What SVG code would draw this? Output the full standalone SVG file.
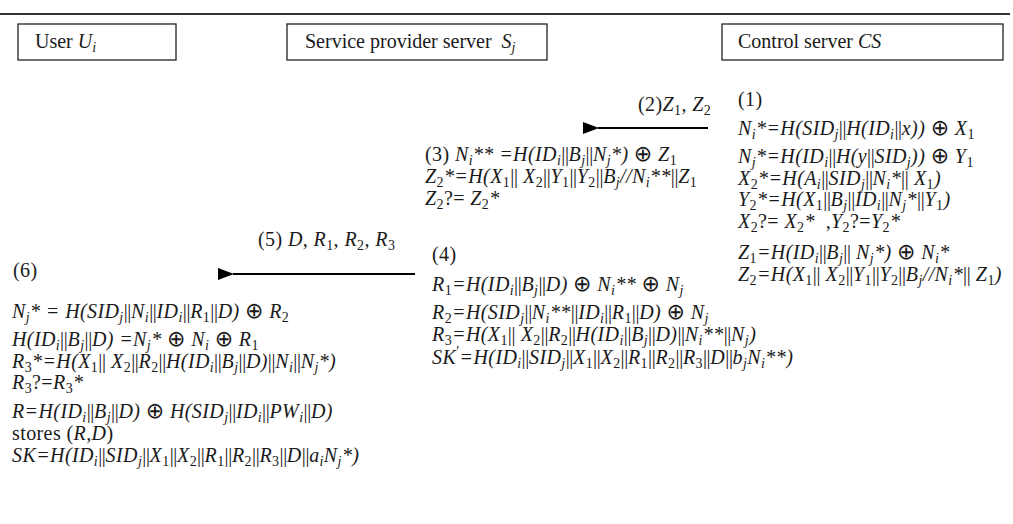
<svg xmlns="http://www.w3.org/2000/svg" width="1013" height="524" viewBox="0 0 1013 524">
<style>
.t{font-family:"Liberation Serif",serif;font-size:20px;fill:#1a1a1a;font-style:italic;letter-spacing:0.4px}
.h{font-size:20px;letter-spacing:0}
.u{font-style:normal}
.s{font-size:14px;baseline-shift:-3.5px}
.p{font-style:normal;font-size:14px;baseline-shift:8px}
.b{font-style:normal;letter-spacing:-0.3px}
.o{font-family:"DejaVu Sans",sans-serif;font-size:22px;font-style:normal}
.box{fill:#fff;stroke:#222;stroke-width:1.3}
.conn{stroke:#000;stroke-width:2;fill:none}
</style>
<defs>
<marker id="ah" markerWidth="16" markerHeight="12" refX="1" refY="6" orient="auto" markerUnits="userSpaceOnUse">
<path d="M16,0 L0,6 L16,12 Z" fill="#000"/>
</marker>
</defs>
<line x1="0" y1="14" x2="1010" y2="14" stroke="#333" stroke-width="2"/>

<g id="user">
<rect class="box" x="18" y="24" width="158" height="36"/>
<text class="t h u" x="35" y="48">User <tspan class="t h">U</tspan><tspan class="t s">i</tspan></text>
</g>
<g id="sp">
<rect class="box" x="287" y="24" width="260" height="36"/>
<text class="t h u" x="305" y="48" xml:space="preserve">Service provider server  <tspan class="t h">S</tspan><tspan class="t s">j</tspan></text>
</g>
<g id="cs">
<rect class="box" x="722" y="24" width="281" height="36"/>
<text class="t h u" x="738" y="48">Control server <tspan class="t h">CS</tspan></text>
</g>

<g id="connectors">
<line class="conn" x1="708" y1="128" x2="598" y2="128" marker-end="url(#ah)"/>
<line class="conn" x1="415" y1="274" x2="233" y2="274" marker-end="url(#ah)"/>
</g>

<g id="labels">
<text class="t u" x="638" y="111">(2)<tspan class="t">Z</tspan><tspan class="s">1</tspan>, <tspan class="t">Z</tspan><tspan class="s">2</tspan></text>
<text class="t u" x="258" y="246">(5) <tspan class="t">D</tspan>, <tspan class="t">R</tspan><tspan class="s">1</tspan>, <tspan class="t">R</tspan><tspan class="s">2</tspan>, <tspan class="t">R</tspan><tspan class="s">3</tspan></text>
</g>

<g id="cs-steps">
<text class="t u" x="738" y="106">(1)</text>
<text class="t" x="738" y="135">N<tspan class="s">i</tspan>*=H(SID<tspan class="s">j</tspan><tspan class="b">||</tspan>H(ID<tspan class="s">i</tspan><tspan class="b">||</tspan>x)) <tspan class="o">⊕</tspan> X<tspan class="s u">1</tspan></text>
<text class="t" x="738" y="163">N<tspan class="s">j</tspan>*=H(ID<tspan class="s">i</tspan><tspan class="b">||</tspan>H(y<tspan class="b">||</tspan>SID<tspan class="s">j</tspan>)) <tspan class="o">⊕</tspan> Y<tspan class="s u">1</tspan></text>
<text class="t" x="738" y="185">X<tspan class="s u">2</tspan>*=H(A<tspan class="s">i</tspan><tspan class="b">||</tspan>SID<tspan class="s">j</tspan><tspan class="b">||</tspan>N<tspan class="s">i</tspan>*<tspan class="b">||</tspan> X<tspan class="s u">1</tspan>)</text>
<text class="t" x="738" y="206">Y<tspan class="s u">2</tspan>*=H(X<tspan class="s u">1</tspan><tspan class="b">||</tspan>B<tspan class="s">j</tspan><tspan class="b">||</tspan>ID<tspan class="s">i</tspan><tspan class="b">||</tspan>N<tspan class="s">j</tspan>*<tspan class="b">||</tspan>Y<tspan class="s u">1</tspan>)</text>
<text class="t" x="738" y="228" xml:space="preserve">X<tspan class="s u">2</tspan><tspan class="u">?=</tspan> X<tspan class="s u">2</tspan>*  ,Y<tspan class="s u">2</tspan><tspan class="u">?=</tspan>Y<tspan class="s u">2</tspan>*</text>
<text class="t" x="738" y="259">Z<tspan class="s u">1</tspan>=H(ID<tspan class="s">i</tspan><tspan class="b">||</tspan>B<tspan class="s">j</tspan><tspan class="b">||</tspan> N<tspan class="s">j</tspan>*) <tspan class="o">⊕</tspan> N<tspan class="s">i</tspan>*</text>
<text class="t" x="738" y="281">Z<tspan class="s u">2</tspan>=H(X<tspan class="s u">1</tspan><tspan class="b">||</tspan> X<tspan class="s u">2</tspan><tspan class="b">||</tspan>Y<tspan class="s u">1</tspan><tspan class="b">||</tspan>Y<tspan class="s u">2</tspan><tspan class="b">||</tspan>B<tspan class="s">j</tspan>//N<tspan class="s">i</tspan>*<tspan class="b">||</tspan> Z<tspan class="s u">1</tspan>)</text>
</g>

<g id="sp-steps">
<text class="t" x="425" y="161"><tspan class="u">(3) </tspan>N<tspan class="s">i</tspan>** =H(ID<tspan class="s">i</tspan><tspan class="b">||</tspan>B<tspan class="s">j</tspan><tspan class="b">||</tspan>N<tspan class="s">j</tspan>*) <tspan class="o">⊕</tspan> Z<tspan class="s u">1</tspan></text>
<text class="t" x="425" y="183">Z<tspan class="s u">2</tspan>*=H(X<tspan class="s u">1</tspan><tspan class="b">||</tspan> X<tspan class="s u">2</tspan><tspan class="b">||</tspan>Y<tspan class="s u">1</tspan><tspan class="b">||</tspan>Y<tspan class="s u">2</tspan><tspan class="b">||</tspan>B<tspan class="s">j</tspan>//N<tspan class="s">i</tspan>**<tspan class="b">||</tspan>Z<tspan class="s u">1</tspan></text>
<text class="t" x="425" y="205">Z<tspan class="s u">2</tspan><tspan class="u">?=</tspan> Z<tspan class="s u">2</tspan>*</text>
<text class="t u" x="432" y="261">(4)</text>
<text class="t" x="432" y="291">R<tspan class="s u">1</tspan>=H(ID<tspan class="s">i</tspan><tspan class="b">||</tspan>B<tspan class="s">j</tspan><tspan class="b">||</tspan>D) <tspan class="o">⊕</tspan> N<tspan class="s">i</tspan>** <tspan class="o">⊕</tspan> N<tspan class="s">j</tspan></text>
<text class="t" x="432" y="319">R<tspan class="s u">2</tspan>=H(SID<tspan class="s">j</tspan><tspan class="b">||</tspan>N<tspan class="s">i</tspan>**<tspan class="b">||</tspan>ID<tspan class="s">i</tspan><tspan class="b">||</tspan>R<tspan class="s u">1</tspan><tspan class="b">||</tspan>D) <tspan class="o">⊕</tspan> N<tspan class="s">j</tspan></text>
<text class="t" x="432" y="341">R<tspan class="s u">3</tspan>=H(X<tspan class="s u">1</tspan><tspan class="b">||</tspan> X<tspan class="s u">2</tspan><tspan class="b">||</tspan>R<tspan class="s u">2</tspan><tspan class="b">||</tspan>H(ID<tspan class="s">i</tspan><tspan class="b">||</tspan>B<tspan class="s">j</tspan><tspan class="b">||</tspan>D)<tspan class="b">||</tspan>N<tspan class="s">i</tspan>**<tspan class="b">||</tspan>N<tspan class="s">j</tspan>)</text>
<text class="t" x="432" y="364">SK<tspan class="p">′</tspan>=H(ID<tspan class="s">i</tspan><tspan class="b">||</tspan>SID<tspan class="s">j</tspan><tspan class="b">||</tspan>X<tspan class="s u">1</tspan><tspan class="b">||</tspan>X<tspan class="s u">2</tspan><tspan class="b">||</tspan>R<tspan class="s u">1</tspan><tspan class="b">||</tspan>R<tspan class="s u">2</tspan><tspan class="b">||</tspan>R<tspan class="s u">3</tspan><tspan class="b">||</tspan>D<tspan class="b">||</tspan>b<tspan class="s">j</tspan>N<tspan class="s">i</tspan>**)</text>
</g>

<g id="user-steps">
<text class="t u" x="13" y="277">(6)</text>
<text class="t" x="12" y="318">N<tspan class="s">j</tspan>* = H(SID<tspan class="s">j</tspan><tspan class="b">||</tspan>N<tspan class="s">i</tspan><tspan class="b">||</tspan>ID<tspan class="s">i</tspan><tspan class="b">||</tspan>R<tspan class="s u">1</tspan><tspan class="b">||</tspan>D) <tspan class="o">⊕</tspan> R<tspan class="s u">2</tspan></text>
<text class="t" x="12" y="346">H(ID<tspan class="s">i</tspan><tspan class="b">||</tspan>B<tspan class="s">j</tspan><tspan class="b">||</tspan>D) =N<tspan class="s">j</tspan>* <tspan class="o">⊕</tspan> N<tspan class="s">i</tspan> <tspan class="o">⊕</tspan> R<tspan class="s u">1</tspan></text>
<text class="t" x="12" y="368">R<tspan class="s u">3</tspan>*=H(X<tspan class="s u">1</tspan><tspan class="b">||</tspan> X<tspan class="s u">2</tspan><tspan class="b">||</tspan>R<tspan class="s u">2</tspan><tspan class="b">||</tspan>H(ID<tspan class="s">i</tspan><tspan class="b">||</tspan>B<tspan class="s">j</tspan><tspan class="b">||</tspan>D)<tspan class="b">||</tspan>N<tspan class="s">i</tspan><tspan class="b">||</tspan>N<tspan class="s">j</tspan>*)</text>
<text class="t" x="12" y="389">R<tspan class="s u">3</tspan><tspan class="u">?=</tspan>R<tspan class="s u">3</tspan>*</text>
<text class="t" x="12" y="418">R=H(ID<tspan class="s">i</tspan><tspan class="b">||</tspan>B<tspan class="s">j</tspan><tspan class="b">||</tspan>D) <tspan class="o">⊕</tspan> H(SID<tspan class="s">j</tspan><tspan class="b">||</tspan>ID<tspan class="s">i</tspan><tspan class="b">||</tspan>PW<tspan class="s">i</tspan><tspan class="b">||</tspan>D)</text>
<text class="t" x="12" y="440"><tspan class="u">stores (</tspan>R,D<tspan class="u">)</tspan></text>
<text class="t" x="12" y="462">SK=H(ID<tspan class="s">i</tspan><tspan class="b">||</tspan>SID<tspan class="s">j</tspan><tspan class="b">||</tspan>X<tspan class="s u">1</tspan><tspan class="b">||</tspan>X<tspan class="s u">2</tspan><tspan class="b">||</tspan>R<tspan class="s u">1</tspan><tspan class="b">||</tspan>R<tspan class="s u">2</tspan><tspan class="b">||</tspan>R<tspan class="s u">3</tspan><tspan class="b">||</tspan>D<tspan class="b">||</tspan>a<tspan class="s">i</tspan>N<tspan class="s">j</tspan>*)</text>
</g>
</svg>
